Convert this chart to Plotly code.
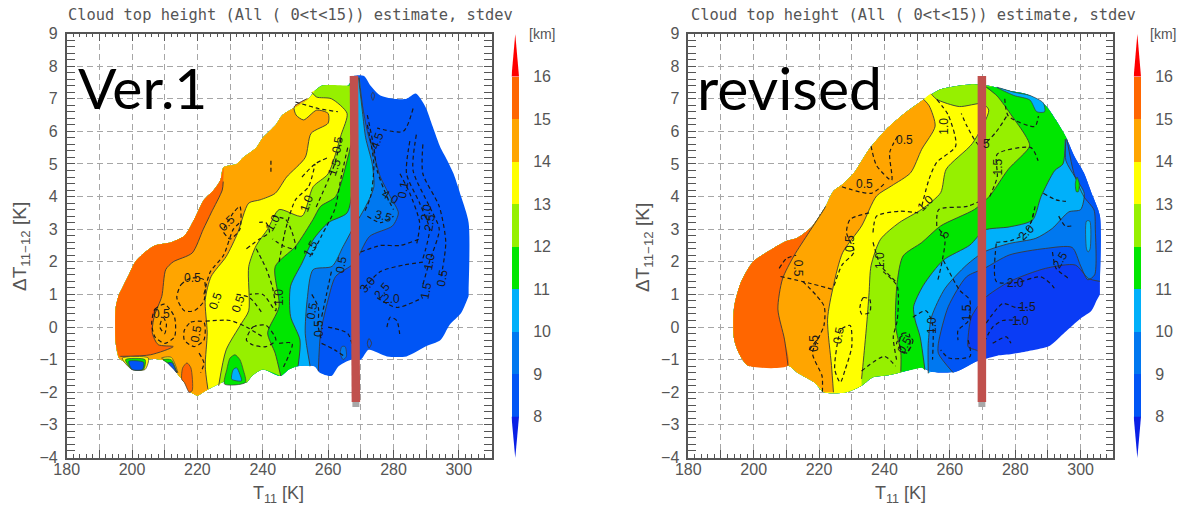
import plotly.graph_objects as go

W, H = 1189, 510
LEVEL_COLORS = {7: "#0a3cf5", 8: "#0055f5", 9: "#0078f0", 10: "#00b0fa", 11: "#00e600",
                12: "#96f000", 13: "#ffff00", 14: "#ffa500", 15: "#ff6600", 16: "#ff0000"}
CB_LEVELS = [8, 9, 10, 11, 12, 13, 14, 15]
CB_TICKS = [8, 9, 10, 11, 12, 13, 14, 15, 16]

# ---------- Ver.1 panel: region edge and isolines of cloud top height (T11, dT11-12)
V1_OUTLINE = [(303, 0.95), (300.7, 0.43), (297.2, 0.07), (294.4, -0.4), (289.8, -0.6), (284, -0.9), (278, -0.9),
              (272.4, -0.7), (270, -1), (267, -1), (263.2, -1.2), (261, -1.5), (257.5, -1.4), (255.8, -1.2),
              (250.5, -1.2), (248, -1.3), (245.4, -1.5), (240, -1.3), (236.7, -1.5), (235, -1.7), (231, -1.6),
              (227.5, -1.7), (223.5, -1.9), (221, -2.05), (220, -2.1), (218, -2), (216, -1.7), (214, -1.45),
              (212, -1.1), (209, -1.0), (205, -1.0), (203.5, -1.3), (200, -1.3), (198, -1.1), (196, -0.95),
              (195, -0.5), (195, 0.6), (196, 1.0), (197, 1.2), (199, 1.6), (201, 2.0), (204, 2.3), (207, 2.5),
              (212, 2.6), (216, 2.8), (219, 3.3), (222, 3.9), (225, 4.2), (227, 4.5), (228, 4.9), (232, 5.0),
              (234, 5.2), (238, 5.5), (240, 5.8), (244, 6.2), (246, 6.5), (251, 6.8), (254, 7.0), (256, 7.25),
              (258, 7.4), (266, 7.4), (268, 7.7), (271, 7.7), (273, 7.4), (276, 7.1), (280, 7.0), (284, 7.0),
              (286.8, 7.16), (289.8, 6.75), (292, 6.15), (294.4, 5.5), (296, 5.2), (298.4, 4.7), (300.7, 4.0),
              (303, 3.2), (303, 1.2)]
V1_ISO_9 = [(257, -1.35), (257.7, -0.18), (260, 0.84), (262.3, 1.55), (268, 1.96), (272.7, 2.78), (279.7, 3.1),
            (281.5, 3.5), (279, 4), (276, 4.6), (274, 5.3), (272, 6), (270.5, 6.8), (269.5, 7.65)]
V1_ISO_10 = [(254.5, -1.2), (253, -0.2), (253.6, 0.84), (255.4, 1.76), (261.2, 1.86), (264.6, 2.47), (268, 3.1),
             (270.4, 3.5), (272.5, 3.9), (274, 4.3), (273.5, 5), (271.5, 5.8), (270.5, 6.6), (269.3, 7.65)]
V1_ISO_11 = [(250.8, -1.2), (251.4, -0.4), (248.5, 0.33), (248.5, 1.25), (252, 1.96), (255.4, 2.67), (260, 3.2),
             (265.8, 3.5), (267.5, 4.3), (268.7, 7), (268.2, 7.65)]
V1_ISO_12 = [(245.5, -1.5), (243.8, -0.8), (241.5, -0.18), (245, 0.63), (243.8, 1.85), (250, 2.47), (255.4, 3.3),
             (257.7, 3.7), (262.3, 4.0), (265.8, 5.1), (267.5, 5.9), (267, 7.4)]
V1_ISO_13 = [(226.5, -1.8), (228.8, -0.7), (233.4, 0.1), (235.7, 0.5), (235.7, 1.85), (238, 2.5), (241.5, 3.0),
             (245, 3.6), (252, 3.4), (255.4, 4.3), (260, 4.7), (264, 5.9), (265.8, 6.55), (261, 7), (256.5, 7.05),
             (255, 7.2)]
V1_ISO_14 = [(223.2, -1.9), (222.4, -1.2), (223, -0.18), (222.4, 0.84), (224.2, 1.55), (228.8, 2.16), (232.3, 2.88),
             (235.7, 3.8), (239.2, 3.9), (243.8, 4.1), (247.3, 4.6), (253, 5.2), (254.8, 5.94), (260, 6.25),
             (260, 6.55), (256.5, 6.65), (252.5, 6.35), (250.2, 6.5), (249.6, 6.75), (253.5, 7.0)]
V1_ISO_15 = [(196.4, -0.9), (205.7, -0.85), (212.6, -0.6), (208, -0.54), (206.2, -0.18), (206.8, 0.33), (209.1, 0.94),
             (210.3, 1.76), (212.6, 2.0), (218.4, 2.27), (221.8, 3.0), (224.2, 3.5), (227.6, 4.2), (227.9, 4.46)]
V1_ISOS = [(9, V1_ISO_9), (10, V1_ISO_10), (11, V1_ISO_11), (12, V1_ISO_12), (13, V1_ISO_13), (14, V1_ISO_14), (15, V1_ISO_15)]
V1_PATCHES = [
    (15, [(215.2, -1.6), (215.5, -1.25), (216.8, -1.1), (218, -1.25), (218.4, -1.95), (217.5, -2), (216, -1.7)]),
    (13, [(197, -0.95), (205, -0.95), (204, -1.3), (200, -1.3), (198, -1.12)]),
    (11, [(198, -1.0), (204, -1.0), (203.5, -1.3), (200, -1.3)]),
    (8, [(199, -1.05), (203.5, -1.08), (203.2, -1.3), (200, -1.3)]),
    (13, [(209, -0.95), (212, -0.93), (214, -1.4), (212, -1.1)]),
    (11, [(209.5, -1.0), (212, -1.0), (213.7, -1.4), (212.3, -1.2)]),
    (8, [(211, -1.1), (212.3, -1.1), (213.6, -1.4), (212.8, -1.3)]),
    (11, [(228.3, -1.75), (229, -1.3), (230, -0.95), (231.5, -0.85), (233, -1), (234, -1.3), (234.7, -1.7)]),
    (10, [(230.5, -1.6), (231, -1.3), (232, -1.25), (233, -1.45), (233.5, -1.65)]),
    (9, [(263.7, -0.8), (264.2, -0.6), (265.2, -0.6), (265.6, -0.9), (264.6, -1.0)]),
]
V1_RINGS = [[(272, -0.5), (272.5, -0.35), (273.3, -0.5), (272.5, -0.65), (272, -0.5)],
            [(273.2, 7.1), (273.7, 7.2), (274.2, 7.1), (273.7, 6.95), (273.2, 7.1)]]
V1_DASH = [
    [(206, 0.1), (207, 0.55), (210, 0.7), (213, 0.3), (213, -0.3), (210, -0.5), (207, -0.3), (206, 0.1)],
    [(208.5, 0), (209.5, 0.3), (210.5, 0.1), (210, -0.2), (208.5, 0)],
    [(213.7, 0.9), (215, 1.3), (218, 1.5), (222, 1.45), (222, 0.8), (219, 0.5), (216, 0.5), (213.7, 0.9)],
    [(216, -0.1), (218, 0.15), (222, 0.15), (222, -0.4), (219, -0.6), (216, -0.4), (216, -0.1)],
    [(222.5, 0.18), (230, 0.2), (235, 0), (240, -0.3)],
    [(235, -0.4), (237, 0), (241, 0.05), (244, -0.4), (241, -0.6), (237, -0.55), (235, -0.4)],
    [(222, 1.0), (224, 1.7), (228, 2.2), (231, 3), (233, 3.2)],
    [(228, 2.9), (230, 2.7), (233, 3.0), (233, 3.7), (231, 3.5), (228, 3.0)],
    [(235, 2.4), (239, 2.7), (242, 2.9), (241, 3.2), (238, 3.2)],
    [(243, 3.4), (247, 3.3), (249, 2.9), (250, 2.4), (246, 2.5), (243, 2.7)],
    [(238, 2.4), (241, 1.8), (243, 1.2), (244, 0.5), (240, 1.0), (236, 1.0)],
    [(245, 2.0), (247, 3), (250, 3.9), (254, 4.3), (256, 5)],
    [(252, 4.6), (256, 5.0), (260, 5.2)],
    [(242.5, 5.1), (242.5, 4.7)],
    [(264, 5.8), (262, 5), (260, 4.5), (256, 3.6)],
    [(266, 5.5), (264, 4.6), (262, 3.6), (258, 2.8), (255, 2.2)],
    [(272, 6.5), (274, 5.5), (275, 4.8), (278, 4.0), (280, 3.6)],
    [(272, 3.4), (276, 3.2), (280, 3.4)],
    [(270, 2.3), (276, 2.5), (282, 2.5), (288, 2.7)],
    [(271, 1.2), (276, 1.7), (283, 1.9), (290, 2.0)],
    [(275, 0.9), (281, 0.6), (289, 0.9)],
    [(285, 5.7), (284, 4.7), (288, 3.8), (291, 3), (289, 2.1)],
    [(287, 5.9), (286, 4.8), (291, 3.7), (294, 3), (291, 2), (289, 1.3)],
    [(289, 5.6), (289, 4.7), (294, 3.7), (296, 2.6), (294.5, 1.5)],
    [(282, 4.7), (285, 4.1), (288, 3.2), (287, 2.5)],
    [(286, 6.7), (283, 6), (275, 6.1)],
    [(278, 0), (279, 0.3), (281, 0.2), (282, -0.3)],
    [(260, 0), (266, -0.2), (268, -0.8)],
    [(258, -0.5), (262, -0.7), (265, -0.9)],
    [(245, -0.5), (249, -0.5), (246, -1.3)],
    [(255, 1), (257, 0.6), (257, 0), (258, -0.4)],
    [(261, 1.7), (259.5, 1), (258, 0.3)],
    [(220.5, -0.8), (222, -1.1), (221, -1.4)],
    [(250, 6.9), (257, 6.7), (263, 6.6)],
    [(232, 1), (236, 0.9), (240, 0.4)],
    [(272, 6.2), (274, 5), (273, 4), (271, 3.5)],
]
V1_LABELS = [("0.5", 218.5, 1.5, 0), ("0.5", 229, 3.2, -45), ("1.0", 243, 3.2, -60), ("1.5", 254.5, 2.4, -60),
             ("0.5", 209, 0.4, 0), ("0.5", 219.5, -0.2, -80), ("0.5", 225.5, 0.8, -70), ("0.5", 232.5, 0.7, -70),
             ("1.0", 245, 0.9, -90), ("0.5", 257, -0.05, -90), ("0.5", 255, 0.5, -80), ("0.5", 264, 1.9, -80),
             ("1.0", 253.5, 3.8, -70), ("0.5", 263, 5.6, -80), ("3.0", 272, 1.3, -50), ("2.5", 276.5, 1.1, -50),
             ("2.0", 279.5, 0.85, 0), ("3.5", 276.8, 3.4, 15), ("4.0", 279, 4.0, 30), ("4.5", 275, 5.7, -70),
             ("1.0", 291, 2, -80), ("0.5", 295, 1.5, -80), ("1.5", 290, 1.1, -80), ("0.1", 283, 4.2, -80),
             ("2.5", 291, 3.2, -80), ("2.0", 290, 3.5, -80), ("1.5", 262, 4.9, -70)]
V1_BAR_T = [267.9, 268.5]
V1_BAR_DT = [7.7, -2.3]
V1_TAIL_T = [268.5, 268.5]
V1_TAIL_DT = [-2.3, -2.45]

# ---------- revised panel
V2_OUTLINE = [(304.8, 0.8), (303.3, 0.5), (299.8, 0.25), (295.2, -0.16), (290.6, -0.57), (284.8, -0.72), (279, -0.83),
              (274.5, -0.88), (267.6, -1.08), (261.8, -1.37), (254.3, -1.37), (251.4, -1.24), (245.7, -1.37),
              (241.6, -1.47), (236.5, -1.54), (233, -1.8), (228.4, -2), (221.5, -2), (218.6, -1.7), (213.4, -1.4),
              (210.5, -1.18), (198.2, -1.18), (195.6, -0.83), (194, -0.37), (194, 0.6), (196.1, 1.37), (199.6, 1.98),
              (203, 2.23), (210, 2.64), (213.4, 2.74), (218, 3.1), (222, 3.7), (224.4, 4.17), (227.2, 4.38),
              (230.7, 4.73), (235.3, 5.45), (241, 6.11), (245.7, 6.52), (252, 6.98), (257.2, 7.29), (266.4, 7.44),
              (273.3, 7.37), (279, 7.23), (283.7, 7.13), (289.4, 6.78), (292.3, 6.37), (295.8, 5.76), (298.1, 5.24),
              (301, 4.73), (303.3, 4.12), (305.9, 3.41), (305.9, 1.4), (305.9, 1.0)]
V2_ISO_8 = [(270.6, -0.83), (268.1, -0.71), (265.6, -0.61), (265.6, -0.3), (266.6, 0.31), (270.6, 0.88), (278.2, 1.39),
            (289.3, 1.8), (298.4, 1.9), (302.4, 1.49), (305.9, 1.4)]
V2_ISO_9 = [(261, -1.4), (256.5, -0.81), (256.5, -0.5), (259.5, 0.62), (265.1, 1.54), (270.6, 1.8), (278.2, 2.21),
            (289.3, 2.41), (297.4, 2.44), (299.9, 1.9), (302.2, 1.45), (304.3, 1.6), (304.5, 3.0), (304.1, 3.59),
            (301, 4.0), (298, 4.7), (295.8, 5.76)]
V2_ISO_10 = [(253.4, -1.42), (253.4, -0.5), (254.4, 0.31), (258.5, 1.18), (265.1, 1.9), (270.6, 2.31), (278.2, 2.56),
             (286.3, 2.72), (291.3, 3.02), (296.4, 3.53), (300, 3.6), (301.1, 4.1), (298.3, 4.6), (295.5, 5.1),
             (295.5, 5.76)]
V2_ISO_11 = [(252.4, -1.32), (250.9, -0.3), (249.4, 0.21), (248.9, 0.62), (251.9, 1.28), (258, 2.05), (266.1, 2.51),
             (270.6, 2.97), (278.2, 3.07), (285.3, 3.28), (287.9, 4.0), (292.1, 4.8), (294.6, 5.0), (295.3, 5.76)]
V2_ISO_12 = [(245, -1.37), (245, -0.78), (243.4, 0.04), (243.9, 1.37), (245.7, 2.18), (251.4, 2.59), (257.2, 3.1),
             (267.6, 3.61), (272.2, 4.02), (277.9, 4.84), (284.4, 5.55), (283, 5.89), (279, 6.47), (274.5, 7.08),
             (271, 7.37)]
V2_ISO_13 = [(233, -1.59), (233.6, -0.98), (234.7, 0.24), (235.3, 1.06), (235.9, 1.88), (238.8, 2.69), (244.5, 3.2),
             (251.4, 3.61), (257.2, 4.12), (258.9, 4.84), (266.9, 5.63), (271.9, 6.65), (270, 6.85), (262.9, 6.76),
             (256, 6.98), (254.3, 7.15)]
V2_ISO_14 = [(224.4, -2), (223.8, -1.18), (222.6, 0.24), (224.4, 1.27), (227.2, 2.28), (233, 3.1), (237.6, 4.02),
             (242.2, 4.33), (248, 4.73), (251.4, 5.45), (255.5, 6.16), (253.7, 6.78), (252, 6.98)]
V2_ISO_15 = [(210.5, -1.18), (209.4, -0.37), (207.4, 0.55), (208.8, 1.47), (212.3, 2.18), (216.9, 2.9), (221.5, 3.61),
             (222, 3.7)]
V2_ISOS = [(8, V2_ISO_8), (9, V2_ISO_9), (10, V2_ISO_10), (11, V2_ISO_11), (12, V2_ISO_12), (13, V2_ISO_13),
           (14, V2_ISO_14), (15, V2_ISO_15)]
V2_PATCHES = [
    (10, [(274.4, 7.35), (279.6, 7.2), (284.5, 7.1), (288.6, 6.87), (289, 6.6), (286.6, 6.6), (284.5, 6.96), (279.6, 7.1)]),
    (11, [(298.4, 4.4), (298.9, 4.6), (299.6, 4.4), (299.3, 4.15), (298.7, 4.15)]),
    (10, [(301.8, 3.25), (302.8, 3.25), (302.9, 2.4), (302.3, 2.3), (301.8, 2.4)]),
]
V2_DASH = [
    [(207.8, 1.8), (210, 2.1), (213, 2.2)],
    [(208.2, 1.55), (216.8, 1.35), (224.4, 1.15)],
    [(215, 1.4), (221.5, 0.65), (221.5, 0.05), (218, -0.8), (220.9, -1.5), (221, -2)],
    [(235.9, 5.55), (237.6, 4.95), (242.2, 4.5), (241.6, 5.35), (244, 5.85)],
    [(227, 4.3), (236, 4.1), (240, 4.4)],
    [(235.3, 3.5), (229.5, 3.3), (228.4, 2.9), (230.7, 2.3), (227, 1.9), (224.4, 1.2)],
    [(236.5, 2.9), (237.6, 3.4), (244.5, 3.55), (250.3, 3.5)],
    [(236.5, 2.6), (238.8, 1.9), (243.4, 1.4)],
    [(232.5, 0.6), (233.5, 0.9), (235.5, 0.85), (235.5, 0.45), (233, 0.4), (232.5, 0.6)],
    [(226, -0.3), (227, -0.05), (229.5, 0.05), (230, -0.6), (228, -1.3), (226.5, -1.7), (224.8, -1.3), (226, -0.3)],
    [(217, -0.7), (220, -0.3)],
    [(244.5, -0.5), (245.5, -0.2), (247.5, -0.2), (247.5, -0.7), (246, -0.8), (244.5, -0.5)],
    [(233, -1.35), (240, -0.9), (243.4, -1.2)],
    [(256, 3.1), (256.6, 3.6), (265.3, 3.7), (270, 3.9)],
    [(272.2, 4), (274.5, 4.6), (274.5, 5.3), (284.8, 5.5), (287, 5.1)],
    [(256, 6.98), (259.5, 6.5), (261.8, 5.55), (256, 5.05), (253.7, 4.55), (251.4, 3.7)],
    [(277.3, 6.45), (273.9, 5.95), (269.3, 5.55), (265.3, 6.15), (263.5, 6.55)],
    [(276.8, 7), (277.9, 6.47), (286, 6.15), (287.1, 6.47)],
    [(274.2, 2.6), (278.7, 2.65), (283.2, 2.87), (285.7, 3.5)],
    [(274.2, 2.56), (274.2, 1.4), (280.2, 1.36), (287.8, 1.54), (291.3, 1.28), (292.3, 1.13)],
    [(258, 2.05), (263, 1.13), (266.1, 0.83), (265.6, 0.18), (262.5, -0.1), (262.5, -0.4)],
    [(270.6, -0.45), (273.1, 0), (276.2, 0.2), (281.7, 0.2)],
    [(271.1, 0.12), (276.2, 0.72), (280.2, 0.6), (283.7, 0.6)],
    [(273.1, -0.5), (277.3, -0.3), (278.7, -0.5)],
    [(248.7, 0.3), (252.7, 0.5), (254.7, 0.1), (254.7, -1)],
    [(245.7, -0.25), (248.7, -0.4), (246.7, -0.8), (243.7, -0.5), (245.7, -0.25)],
    [(239.6, 1.7), (243.9, 1.25), (243.9, 0.2), (242.7, -0.3), (243.7, -1)],
    [(291.4, 2.3), (292.5, 1.8), (296.2, 1.5)],
    [(293.3, 3.4), (295.3, 3.1), (297.3, 3.1)],
    [(288.6, 4.1), (292.5, 3.9), (295.5, 3.85)],
    [(286.1, 3.7), (284.9, 3.2)],
    [(265.6, -0.4), (266.2, -0.9), (259.7, -0.95), (257.2, -0.7)],
    [(256.7, 3), (258.5, 2.7), (257.2, 1.8), (256.2, 1.4)],
]
V2_LABELS = [("0.5", 213.4, 1.8, 90), ("0.5", 246, 5.75, 0), ("0.5", 234, 4.4, 0), ("0.5", 229.5, 2.55, -90),
             ("0.5", 218.6, -0.5, -90), ("0.5", 226, -0.25, -80), ("1.0", 238.6, 2.05, -90), ("1.0", 252.6, 3.8, -45),
             ("1.0", 258.3, 6.15, -90), ("1.5", 274.8, 4.9, -90), ("5", 271.3, 5.6, 0), ("2.0", 283.6, 2.9, -45),
             ("2.0", 280.2, 1.36, 0), ("1.5", 283.7, 0.6, 0), ("1.0", 281.7, 0.2, 0), ("1.5", 265.5, 0.45, -90),
             ("1.0", 254.5, 0.06, -90), ("5", 258.5, 2.85, -70), ("2.5", 293.8, 2.05, -60), ("0.5", 246.2, -0.55, -60)]
V2_BAR_T = [269.8, 269.8]
V2_BAR_DT = [7.7, -2.3]
V2_TAIL_T = [269.8, 269.8]
V2_TAIL_DT = [-2.3, -2.45]

X_TICKS = list(range(180, 320, 10))
X_LABELS = list(range(180, 310, 20))
Y_VALS = list(range(-4, 10))
Y_TEXT = [str(v).replace("-", "\u2212") for v in Y_VALS]

GRAY = "#555555"
fig = go.Figure()


def nearest(outline, pt):
    return min(range(len(outline)), key=lambda k: (outline[k][0] - pt[0]) ** 2 + (outline[k][1] - pt[1]) ** 2)


def poly(points, color, xa, ya, edge=None, smooth=True):
    fig.add_trace(go.Scatter(x=[p[0] for p in points], y=[p[1] for p in points], mode="lines", fill="toself",
                             fillcolor=color,
                             line=dict(width=0.7 if edge else 0, color=edge or color,
                                       shape="spline" if smooth else "linear", smoothing=0.7),
                             hoverinfo="skip", xaxis=xa, yaxis=ya, showlegend=False))


def line(points, xa, ya, color="#222222", width=1.0, dash=None, smooth=True):
    fig.add_trace(go.Scatter(x=[p[0] for p in points], y=[p[1] for p in points], mode="lines",
                             line=dict(color=color, width=width, dash=dash,
                                       shape="spline" if smooth else "linear", smoothing=0.7),
                             hoverinfo="skip", xaxis=xa, yaxis=ya, showlegend=False))


def panel(outline, base, isos, patches, dashes, rings, labels, bar_t, bar_d, tail_t, tail_d, xa, ya, xlabel_axis):
    poly(outline, LEVEL_COLORS[base], xa, ya)
    for lev, iso in isos:
        i, j = nearest(outline, iso[0]), nearest(outline, iso[-1])
        poly(outline[i:j + 1] + iso[::-1], LEVEL_COLORS[lev], xa, ya)
    for lev, iso in isos:
        line(iso, xa, ya, color="#3a3a3a", width=0.9)
    for lev, pts in patches:
        poly(pts + pts[:1], LEVEL_COLORS[lev], xa, ya, edge="#3a3a3a")
    for r in rings:
        line(r, xa, ya, color="#3a3a3a", width=0.9)
    for d in dashes:
        line(d, xa, ya, color="#1a1a1a", width=1.2, dash="4px,3px")
    for txt, t, d, ang in labels:
        fig.add_annotation(x=t, y=d, xref=xa, yref=ya, text=txt, textangle=ang, showarrow=False,
                           font=dict(family="Liberation Sans", size=12, color="#1a1a1a"))
    line(list(zip(bar_t, bar_d)), xa, ya, color="#c0504d", width=8.5, smooth=False)
    line(list(zip(tail_t, tail_d)), xlabel_axis, ya, color="#a8a8a8", width=7, smooth=False)


panel(V1_OUTLINE, 8, V1_ISOS, V1_PATCHES, V1_DASH, V1_RINGS, V1_LABELS, V1_BAR_T, V1_BAR_DT, V1_TAIL_T, V1_TAIL_DT, "x", "y", "x5")
panel(V2_OUTLINE, 7, V2_ISOS, V2_PATCHES, V2_DASH, [], V2_LABELS, V2_BAR_T, V2_BAR_DT, V2_TAIL_T, V2_TAIL_DT, "x2", "y2", "x6")

for xa, ya in (("x3", "y3"), ("x4", "y4")):
    fig.add_trace(go.Bar(x=[0.5] * len(CB_LEVELS), y=[1] * len(CB_LEVELS), base=CB_LEVELS, width=1,
                         marker=dict(color=[LEVEL_COLORS[l] for l in CB_LEVELS], line=dict(width=0)),
                         hoverinfo="skip", xaxis=xa, yaxis=ya, showlegend=False))
    poly([(0, 16), (1, 16), (0.5, 17)], LEVEL_COLORS[16], xa, ya, smooth=False)
    poly([(0, 8), (1, 8), (0.5, 7.03)], "#0a20e6", xa, ya, smooth=False)


def px_x(a, b):
    return [a / W, b / W]


def px_y(top, bot):
    return [1 - bot / H, 1 - top / H]


def x_axis(dom):
    return dict(domain=dom, range=[180, 310], tickmode="array", tickvals=X_TICKS, showticklabels=False, ticks="inside",
                ticklen=8, tickwidth=1.2, tickcolor=GRAY, showline=True, linecolor=GRAY, linewidth=1.6, mirror="allticks",
                showgrid=True, gridcolor="#a6a6a6", griddash="6px,4px", gridwidth=1.2, zeroline=False,
                minor=dict(dtick=2, ticks="inside", ticklen=4, tickwidth=1, tickcolor=GRAY, showgrid=False))


def x_label_axis(dom, over, anchor):
    return dict(domain=dom, range=[180, 310], overlaying=over, anchor=anchor, side="bottom", tickmode="array",
                tickvals=X_LABELS, ticks="", showgrid=False, zeroline=False, showline=False,
                tickfont=dict(family="Liberation Sans", size=16, color=GRAY))


def y_axis(dom, anchor):
    return dict(domain=dom, range=[-4, 9], anchor=anchor, tickmode="array", tickvals=Y_VALS, ticktext=Y_TEXT, ticks="inside",
                ticklen=8, tickwidth=1.2, tickcolor=GRAY, showline=True, linecolor=GRAY, linewidth=1.6, mirror="allticks",
                showgrid=True, gridcolor="#a6a6a6", griddash="6px,4px", gridwidth=1.2, zeroline=False, ticklabelstandoff=4,
                tickfont=dict(family="Liberation Sans", size=16, color=GRAY),
                minor=dict(dtick=0.2, ticks="inside", ticklen=4, tickwidth=1, tickcolor=GRAY, showgrid=False))


def cb_x(dom):
    return dict(domain=dom, range=[0, 1], visible=False, fixedrange=True)


def cb_y(dom, anchor):
    return dict(domain=dom, range=[7.03, 17.0], anchor=anchor, side="right", tickmode="array", tickvals=CB_TICKS,
                ticks="outside", ticklen=10, tickcolor="rgba(0,0,0,0)", showgrid=False, zeroline=False, showline=False,
                tickfont=dict(family="Liberation Sans", size=16, color=GRAY))


YD = px_y(33.5, 457.5)
CD = px_y(34, 458)
XD1 = px_x(66.7, 491.5)
XD2 = px_x(688.3, 1113.3)
fig.update_layout(
    width=W, height=H, autosize=False, margin=dict(l=0, r=0, t=0, b=0, pad=0, autoexpand=False),
    paper_bgcolor="white", plot_bgcolor="white",
    showlegend=False, barmode="overlay", bargap=0,
    xaxis=x_axis(XD1), yaxis=y_axis(YD, "x"),
    xaxis2=dict(x_axis(XD2), anchor="y2"), yaxis2=y_axis(YD, "x2"),
    xaxis3=dict(cb_x(px_x(511.5, 519)), anchor="y3"), yaxis3=cb_y(CD, "x3"),
    xaxis4=dict(cb_x(px_x(1133.7, 1141)), anchor="y4"), yaxis4=cb_y(CD, "x4"),
    xaxis5=x_label_axis(XD1, "x", "y"), xaxis6=x_label_axis(XD2, "x2", "y2"),
)


def note(px, py, txt, size, color=GRAY, family="Liberation Sans", angle=0, xanchor="center"):
    fig.add_annotation(x=px / W, y=1 - py / H, xref="paper", yref="paper", text=txt, showarrow=False, textangle=angle,
                       xanchor=xanchor, yanchor="middle", font=dict(family=family, size=size, color=color))


TITLE = "Cloud top height (All ( 0&lt;t&lt;15)) estimate, stdev"
note(290, 15, TITLE, 15.4, family="DejaVu Sans Mono")
note(913, 15, TITLE, 15.4, family="DejaVu Sans Mono")
note(278, 494, "T<sub>11</sub> [K]", 18)
note(900, 494, "T<sub>11</sub> [K]", 18)
note(21, 247, "\u0394T<sub>11\u221212</sub> [K]", 19, angle=-90)
note(644, 247, "\u0394T<sub>11\u221212</sub> [K]", 19, angle=-90)
note(542, 34, "[km]", 14)
note(1163, 34, "[km]", 14)
note(76, 87, "Ver.1", 57, color="#000000", family="Lato", xanchor="left")
note(695, 87, "revised", 59, color="#000000", family="Lato", xanchor="left")

fig.write_html("out.html", post_script="document.body.style.margin='0';", config={"displayModeBar": False})
